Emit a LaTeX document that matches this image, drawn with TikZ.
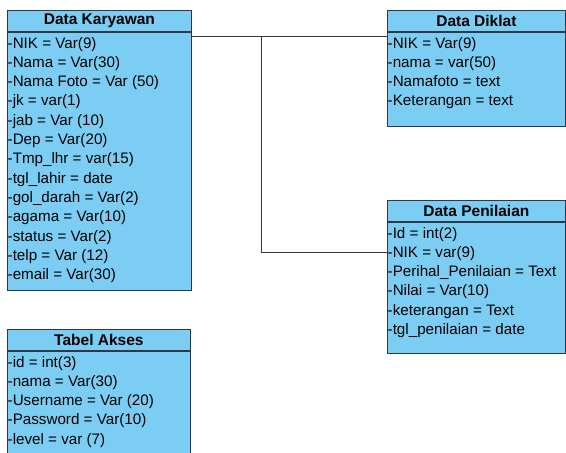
\documentclass[tikz,border=0pt]{standalone}
\usepackage{fontspec}
\setmainfont{Liberation Sans}
\usepackage{xcolor}
\usepackage{tikz}
\usetikzlibrary{positioning}
\definecolor{TableBlue}{RGB}{124, 205, 243}
\definecolor{EdgeGray}{RGB}{48, 56, 72}
\tikzset{
    tblhead/.style={draw=EdgeGray, fill=TableBlue, line width=0.8pt, anchor=north west,
        minimum height=21pt, inner sep=0pt, font=\fontsize{15.5}{17}\selectfont\bfseries},
    tblbody/.style={draw=EdgeGray, fill=TableBlue, line width=0.8pt, anchor=north west, inner sep=0pt},
    tblrows/.style={anchor=north west, align=left, inner xsep=0.5pt, inner ysep=5pt,
        font=\fontsize{15.2}{19.3}\selectfont},
    relline/.style={draw=EdgeGray, line width=0.9pt}
}

\begin{document}
\begin{tikzpicture}[x=1pt, y=-1pt]
    \useasboundingbox (0,0) rectangle (566,453);

    \node[tblhead, minimum width=184pt] (karyHead) at (7,10) {Data Karyawan};
    \node[tblbody, minimum width=184pt, minimum height=258pt] (karyBody) at (karyHead.south west) {};
    \node[tblrows] (karyRows) at (karyBody.north west) {
        -NIK = Var(9)\\ -Nama = Var(30)\\ -Nama Foto = Var (50)\\ -jk = var(1)\\
        -jab = Var (10)\\ -Dep = Var(20)\\ -Tmp\_lhr = var(15)\\ -tgl\_lahir = date\\
        -gol\_darah = Var(2)\\ -agama = Var(10)\\ -status = Var(2)\\ -telp = Var (12)\\
        -email = Var(30)};

    \node[tblhead, minimum width=178pt] (diklatHead) at (387,10) {Data Diklat};
    \node[tblbody, minimum width=178pt, minimum height=94pt] (diklatBody) at (diklatHead.south west) {};
    \node[tblrows] (diklatRows) at (diklatBody.north west) {
        -NIK = Var(9)\\ -nama = var(50)\\ -Namafoto = text\\ -Keterangan = text};

    \node[tblhead, minimum width=178pt] (nilaiHead) at (387,200) {Data Penilaian};
    \node[tblbody, minimum width=178pt, minimum height=131pt] (nilaiBody) at (nilaiHead.south west) {};
    \node[tblrows] (nilaiRows) at (nilaiBody.north west) {
        -Id = int(2)\\ -NIK = var(9)\\ -Perihal\_Penilaian = Text\\ -Nilai = Var(10)\\
        -keterangan = Text\\ -tgl\_penilaian = date};

    \node[tblhead, minimum width=183pt] (aksesHead) at (7,329) {Tabel Akses};
    \node[tblbody, minimum width=183pt, minimum height=106pt] (aksesBody) at (aksesHead.south west) {};
    \node[tblrows] (aksesRows) at (aksesBody.north west) {
        -id = int(3)\\ -nama = Var(30)\\ -Username = Var (20)\\ -Password = Var(10)\\
        -level = var (7)};

    \draw[relline] ([yshift=-5pt]karyBody.north east) coordinate (karyOut) -- (karyOut -| diklatBody.west);
    \path (karyOut) ++(70,0) coordinate (branch);
    \draw[relline] (branch) |- ([yshift=-31pt]nilaiBody.north west);
\end{tikzpicture}
\end{document}
